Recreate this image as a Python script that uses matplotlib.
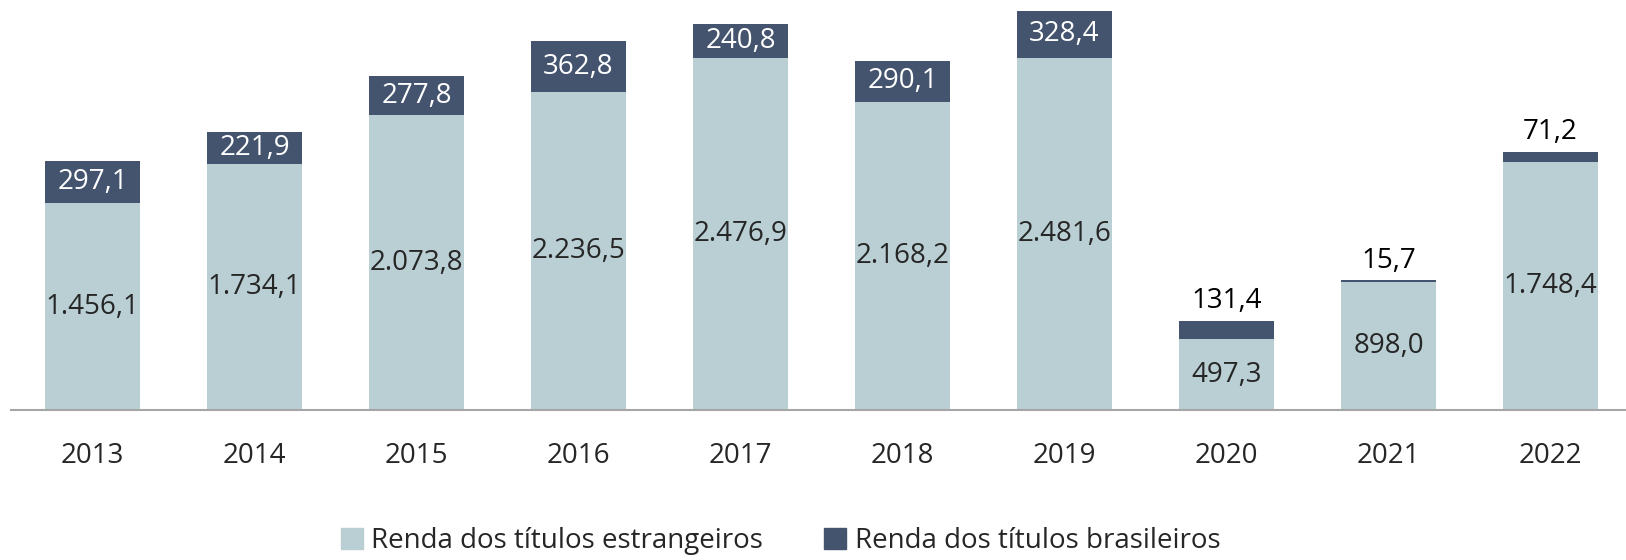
import matplotlib
matplotlib.use("Agg")
import matplotlib.pyplot as plt
from matplotlib.patches import Patch

# DATA
years = ["2013", "2014", "2015", "2016", "2017", "2018", "2019", "2020", "2021", "2022"]
estrangeiros = [1456.1, 1734.1, 2073.8, 2236.5, 2476.9, 2168.2, 2481.6, 497.3, 898.0, 1748.4]
brasileiros = [297.1, 221.9, 277.8, 362.8, 240.8, 290.1, 328.4, 131.4, 15.7, 71.2]

LIGHT = "#B9CFD4"
DARK = "#44546F"
TEXT = "#262626"

plt.rcParams["font.family"] = ["Open Sans", "DejaVu Sans"]


def fmt(v):
    # BRAZILIAN NUMBER FORMAT: 1.456,1
    s = f"{v:,.1f}"
    return s.replace(",", "X").replace(".", ",").replace("X", ".")


fig = plt.figure(figsize=(16.26, 5.6), dpi=100)
ax = fig.add_axes([11 / 1626, 1 - 410 / 560, 1 - 11 / 1626, 410 / 560])

x = range(len(years))
ax.bar(x, estrangeiros, width=0.586, color=LIGHT)
ax.bar(x, brasileiros, width=0.586, bottom=estrangeiros, color=DARK)

for i, (a, b) in enumerate(zip(estrangeiros, brasileiros)):
    ax.text(i, a / 2, fmt(a), ha="center", va="center", fontsize=20, color=TEXT)
    if b >= 150:
        ax.text(i, a + b / 2, fmt(b), ha="center", va="center", fontsize=20, color="white")
    else:
        ax.annotate(fmt(b), (i, a + b), xytext=(0, 4), textcoords="offset points",
                    ha="center", va="bottom", fontsize=20, color="black")

ax.set_xlim(-0.503, 9.466)
ax.set_ylim(0, 2887)
ax.set_xticks(list(x))
ax.set_xticklabels(years, fontsize=20, color=TEXT)
ax.tick_params(axis="x", length=0, pad=23)
ax.set_yticks([])
for side in ["top", "right", "left"]:
    ax.spines[side].set_visible(False)
ax.spines["bottom"].set_color("#A6A6A6")
ax.spines["bottom"].set_linewidth(1.5)

handles = [Patch(color=LIGHT, label="Renda dos títulos estrangeiros"),
           Patch(color=DARK, label="Renda dos títulos brasileiros")]
fig.legend(handles=handles, loc="center", bbox_to_anchor=(0.48, 0.034), ncol=2,
           frameon=False, fontsize=20, handlelength=0.8, handleheight=0.8,
           handletextpad=0.3, columnspacing=2.2, labelcolor=TEXT)

fig.savefig("out.png", dpi=100)
